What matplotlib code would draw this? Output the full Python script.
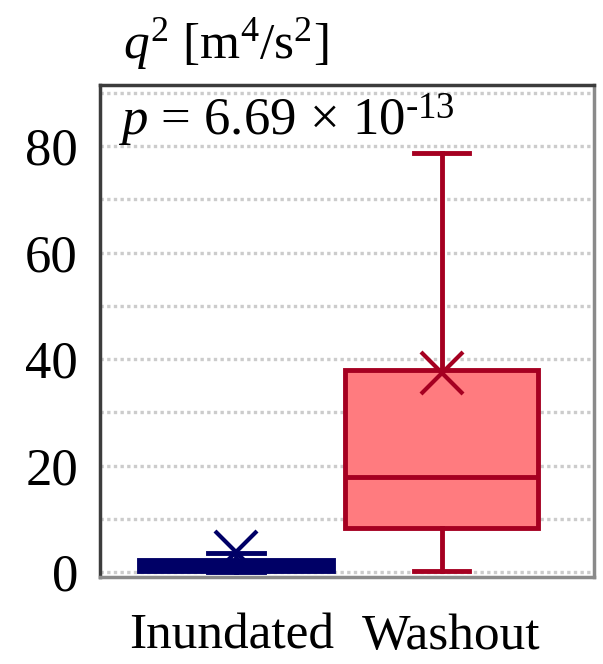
import matplotlib
matplotlib.use("Agg")
import matplotlib.pyplot as plt
from matplotlib.transforms import ScaledTranslation

plt.rcParams['font.family'] = ['Liberation Serif', 'DejaVu Serif']
plt.rcParams['mathtext.fontset'] = 'custom'
plt.rcParams['mathtext.rm'] = 'Liberation Serif'
plt.rcParams['mathtext.it'] = 'Liberation Serif:italic'

# datos
grupos = ['Inundated', 'Washout']
minimos = [0.0, 0.2]
q1 = [0.1, 8.3]
medianas = [0.6, 17.8]
q3 = [2.3, 37.9]
maximos = [3.6, 78.7]
medias = [3.8, 37.4]
cor_borda = ['#000066', '#a50021']
cor_caixa = ['#000066', '#ff7b7f']

y_ticks = [0, 20, 40, 60, 80]
y_minor = [10, 30, 50, 70, 90]

fig = plt.figure(figsize=(6.03, 6.64), dpi=100)
ax = fig.add_axes([0.166, 0.131, 0.819, 0.741])

for i in range(len(grupos)):
    stats = [{'whislo': minimos[i], 'q1': q1[i], 'med': medianas[i], 'q3': q3[i],
              'whishi': maximos[i], 'mean': medias[i], 'fliers': []}]
    c = cor_borda[i]
    ax.bxp(stats, positions=[i + 1], widths=0.94, patch_artist=True, showmeans=True,
           boxprops=dict(facecolor=cor_caixa[i], edgecolor=c, linewidth=3.5),
           medianprops=dict(color=c, linewidth=3.5),
           whiskerprops=dict(color=c, linewidth=3.5),
           capprops=dict(color=c, linewidth=3.5),
           capwidths=0.27,
           meanprops=dict(marker='x', markersize=30, markeredgecolor=c, markeredgewidth=3),
           zorder=3)

ax.set_xlim(0.34, 2.74)
ax.set_ylim(-0.94, 91.46)
ax.set_yticks(y_ticks)
ax.set_yticks(y_minor, minor=True)
ax.set_xticks([1, 2])
ax.set_xticklabels(grupos)
ax.tick_params(axis='both', which='both', length=0, labelsize=38)
ax.tick_params(axis='x', labelsize=37, pad=26)
ax.tick_params(axis='y', pad=16)
ax.grid(True, axis='y', which='both', linestyle=(0, (1, 1)), color='#cccccc', linewidth=2.4, zorder=0)
ax.set_axisbelow(True)

# os rotulos do eixo x ficam um pouco deslocados no original
for lbl, dx in zip(ax.get_xticklabels(), [-4, 9]):
    lbl.set_transform(lbl.get_transform() + ScaledTranslation(dx / 100, 0, fig.dpi_scale_trans))

ax.spines['left'].set_color('#3c3c3c')
ax.spines['top'].set_color('#3c3c3c')
ax.spines['right'].set_color('#8a8a8a')
ax.spines['bottom'].set_color('#8a8a8a')
for s in ax.spines.values():
    s.set_linewidth(2.5)

ax.text(0.036, 0.898, r'$p$ = 6.69 × 10$^{\text{-13}}$', transform=ax.transAxes,
        fontsize=38, ha='left', va='baseline')
fig.text(0.204, 0.912, r'$q^2$ [m$^4$/s$^2$]', fontsize=37, ha='left', va='baseline')

fig.savefig('out.png', dpi=100)
